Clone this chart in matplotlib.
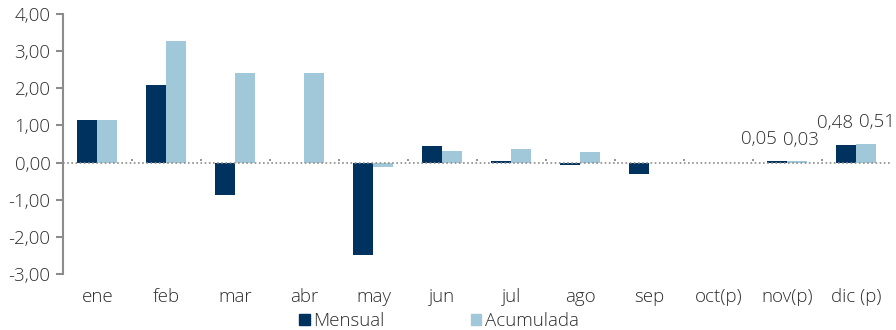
import matplotlib
matplotlib.use("Agg")
import matplotlib.pyplot as plt
import numpy as np
from matplotlib.patches import Patch

months = ["ene", "feb", "mar", "abr", "may", "jun", "jul", "ago", "sep", "oct(p)", "nov(p)", "dic (p)"]
mensual = [1.16, 2.09, -0.86, 0.00, -2.50, 0.45, 0.03, -0.07, -0.30, 0.00, 0.05, 0.48]
acumulada = [1.16, 3.28, 2.41, 2.41, -0.13, 0.32, 0.36, 0.28, 0.00, 0.00, 0.03, 0.51]
labelled = [10, 11]  # months whose values are printed

y_ticks = [4, 3, 2, 1, 0, -1, -2, -3]

c_men = "#00325F"
c_acu = "#A0C8D9"
grey = "#8C8C8C"
txt = "#2E2E2E"
fs = 13.5

plt.rcParams["font.family"] = ["Open Sans", "DejaVu Sans"]
plt.rcParams["font.weight"] = "light"

fig = plt.figure(figsize=(8.96, 3.30), dpi=100)
ax = fig.add_axes([0.0703, 0.170, 0.924, 0.787])

x = np.arange(len(months))
w = 0.29
ax.bar(x - w / 2, mensual, width=w, color=c_men, zorder=2)
ax.bar(x + w / 2, acumulada, width=w, color=c_acu, zorder=2)

# dotted zero line with small marks between categories
ax.axhline(0, color=grey, lw=1.2, ls=(0, (1, 1.5)), zorder=3)
ax.vlines(x[:-1] + 0.5, 0.03, 0.11, color=grey, lw=1.3, zorder=3)

fmt = lambda v: f"{v:.2f}".replace(".", ",")
shift = {10: (-0.27, 0.05), 11: (-0.17, 0.16)}
for i in labelled:
    for v, off, dx in ((mensual[i], -w / 2, shift[i][0]), (acumulada[i], w / 2, shift[i][1])):
        ax.annotate(fmt(v), (x[i] + off + dx, v), xytext=(0, 9), textcoords="offset points",
                    ha="center", va="bottom", fontsize=fs, color=txt)

ax.set_xlim(-0.5, len(months) - 0.5)
ax.set_ylim(-3, 4)
ax.set_yticks(y_ticks)
ax.set_yticklabels([fmt(v) for v in y_ticks])
ax.set_xticks(x)
ax.set_xticklabels(months)

for s in ("top", "right", "bottom"):
    ax.spines[s].set_visible(False)
ax.spines["left"].set_color(grey)
ax.spines["left"].set_linewidth(1.5)
ax.tick_params(axis="y", length=5, width=1.5, color=grey, labelsize=fs, labelcolor=txt, pad=4)
ax.tick_params(axis="x", length=0, labelsize=fs, labelcolor=txt, pad=10)

handles = [Patch(color=c_men, label="Mensual"), Patch(color=c_acu, label="Acumulada")]
fig.legend(handles=handles, loc="center", bbox_to_anchor=(0.49, 0.027), ncol=2, frameon=False,
           fontsize=fs, handlelength=0.55, handleheight=0.55, handletextpad=0.2,
           columnspacing=4.6, labelcolor=txt)

fig.savefig("out.png", dpi=100)
